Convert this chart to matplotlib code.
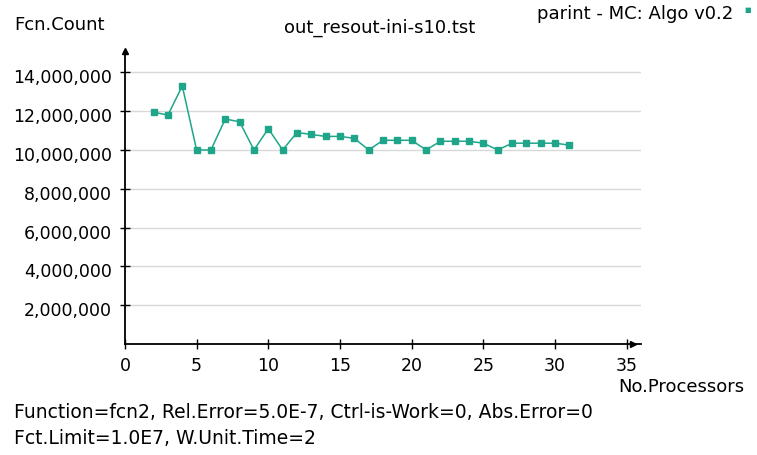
import matplotlib
matplotlib.use("Agg")
import matplotlib.pyplot as plt
import matplotlib.transforms as mtransforms
from matplotlib.ticker import FuncFormatter

# number of processors and function counts
procs = [2, 3, 4, 5, 6, 7, 8, 9, 10, 11, 12, 13, 14, 15, 16,
         17, 18, 19, 20, 21, 22, 23, 24, 25, 26, 27, 28, 29, 30, 31]
counts = [11.95e6, 11.8e6, 13.3e6, 10.0e6, 10.0e6, 11.6e6, 11.45e6, 10.0e6,
          11.1e6, 10.0e6, 10.9e6, 10.8e6, 10.7e6, 10.7e6, 10.6e6,
          10.0e6, 10.5e6, 10.5e6, 10.5e6, 10.0e6, 10.45e6, 10.45e6, 10.45e6,
          10.35e6, 10.0e6, 10.35e6, 10.35e6, 10.35e6, 10.35e6, 10.25e6]
xticks = [0, 5, 10, 15, 20, 25, 30, 35]
yticks = [2e6, 4e6, 6e6, 8e6, 10e6, 12e6, 14e6]

teal = '#1fa68a'
fs = 13

fig = plt.figure(figsize=(7.57, 4.55), dpi=100)
ax = fig.add_axes([0.165, 0.244, 0.682, 0.631])

ax.plot(procs, counts, color=teal, lw=1.1, marker='s', ms=5, mfc=teal, mec=teal)

ax.set_xlim(0, 36)
ax.set_ylim(0, 14.8e6)
ax.set_xticks(xticks)
ax.set_yticks(yticks)
ax.yaxis.set_major_formatter(FuncFormatter(lambda v, p: f"{int(v):,}"))
ax.grid(axis='y', color='#d8d8d8', lw=1)
ax.set_axisbelow(True)

for s in ['top', 'right']:
    ax.spines[s].set_visible(False)
for s in ['left', 'bottom']:
    ax.spines[s].set_color('black')
    ax.spines[s].set_linewidth(1.3)
ax.tick_params(direction='inout', length=7, width=1, labelsize=12.5)
ax.tick_params(axis='x', pad=6)
ax.tick_params(axis='y', pad=6)

# y labels sit a little below their ticks in the original
off = mtransforms.ScaledTranslation(0, -4 / 100, fig.dpi_scale_trans)
for lab in ax.get_yticklabels():
    lab.set_transform(lab.get_transform() + off)

# arrow heads on the axes
ax.plot(0, 1.02, marker='^', color='black', ms=5, transform=ax.transAxes, clip_on=False)
ax.plot(0.985, 0, marker='>', color='black', ms=5, transform=ax.transAxes, clip_on=False)
ax.spines['left'].set_bounds(0, 15.1e6)

fig.text(0.0185, 0.945, 'Fcn.Count', fontsize=fs, ha='left', va='center')
fig.text(0.502, 0.938, 'out_resout-ini-s10.tst', fontsize=fs, ha='center', va='center')
fig.text(0.968, 0.969, 'parint - MC: Algo v0.2', fontsize=fs, ha='right', va='center')
fig.text(0.988, 0.978, '\u25a0', fontsize=5, color=teal, ha='center', va='center')
fig.text(0.983, 0.149, 'No.Processors', fontsize=fs, ha='right', va='center')
fig.text(0.0185, 0.0945, 'Function=fcn2, Rel.Error=5.0E-7, Ctrl-is-Work=0, Abs.Error=0',
         fontsize=13.5, ha='left', va='center')
fig.text(0.0185, 0.037, 'Fct.Limit=1.0E7, W.Unit.Time=2', fontsize=13.5, ha='left', va='center')

fig.savefig('out.png', dpi=100)
